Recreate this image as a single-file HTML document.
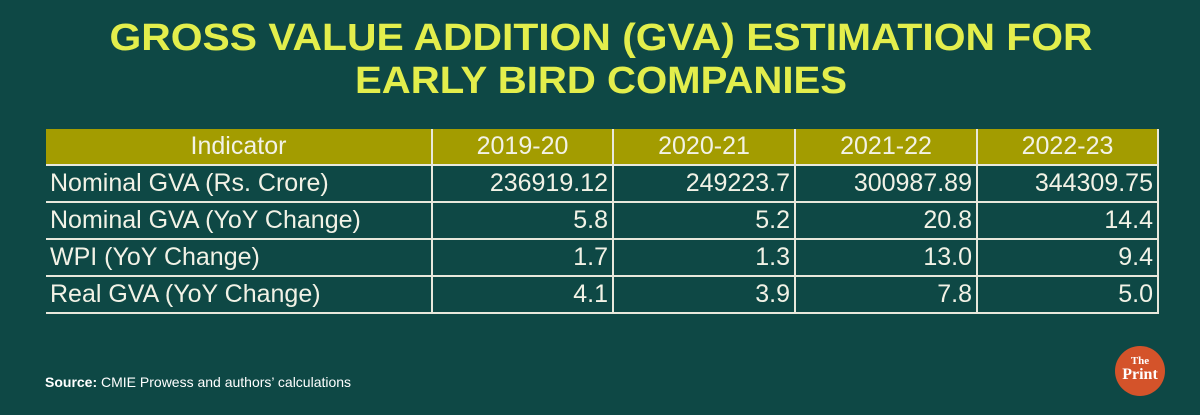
<!DOCTYPE html>
<html><head><style>
body{margin:0;width:1200px;height:415px;background:#0e4845;overflow:hidden;font-family:"Liberation Sans",sans-serif;position:relative}
.t{position:absolute;left:0;top:0}
table{position:absolute;left:46px;top:129px;border-collapse:collapse;color:#f2f2e6;font-size:25px}
td{border:2px solid #e8e8dc;height:35px;padding:0 4px 0 4px;line-height:35px;white-space:nowrap}
tr.h td{background:#a39c00;text-align:center;border-top:none}
td:first-child{border-left:none}
td.n{text-align:right}
td.l{text-align:left}
.src{position:absolute;left:45px;top:374px;color:#fff;font-size:14px}
.logo{position:absolute;left:1115px;top:346px;width:50px;height:50px;border-radius:50%;background:#d4532a;color:#fff;font-family:"Liberation Serif",serif;text-align:center;font-weight:bold}
</style></head><body>
<svg class="t" width="1200" height="120">
<text x="601" y="50" text-anchor="middle" textLength="983" lengthAdjust="spacingAndGlyphs" font-family="Liberation Sans" font-weight="bold" font-size="38" fill="#e3ee4c">GROSS VALUE ADDITION (GVA) ESTIMATION FOR</text>
<text x="601" y="93" text-anchor="middle" textLength="492" lengthAdjust="spacingAndGlyphs" font-family="Liberation Sans" font-weight="bold" font-size="38" fill="#e3ee4c">EARLY BIRD COMPANIES</text>
</svg>
<table>
<colgroup><col style="width:386px"><col style="width:181px"><col style="width:182px"><col style="width:182px"><col style="width:181px"></colgroup>
<tr class="h"><td>Indicator</td><td>2019-20</td><td>2020-21</td><td>2021-22</td><td>2022-23</td></tr>
<tr><td class="l">Nominal GVA (Rs. Crore)</td><td class="n">236919.12</td><td class="n">249223.7</td><td class="n">300987.89</td><td class="n">344309.75</td></tr>
<tr><td class="l">Nominal GVA (YoY Change)</td><td class="n">5.8</td><td class="n">5.2</td><td class="n">20.8</td><td class="n">14.4</td></tr>
<tr><td class="l">WPI (YoY Change)</td><td class="n">1.7</td><td class="n">1.3</td><td class="n">13.0</td><td class="n">9.4</td></tr>
<tr><td class="l">Real GVA (YoY Change)</td><td class="n">4.1</td><td class="n">3.9</td><td class="n">7.8</td><td class="n">5.0</td></tr>
</table>
<div class="src"><b>Source:</b> CMIE Prowess and authors’ calculations</div>
<div class="logo"><div style="font-size:11px;margin-top:10px;line-height:11px">The</div><div style="font-size:16px;line-height:16px">Print</div></div>
</body></html>
